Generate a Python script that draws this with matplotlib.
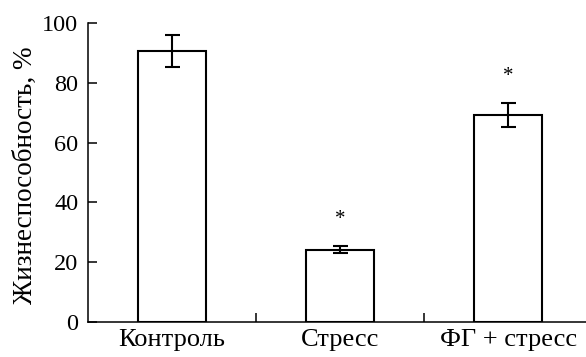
import matplotlib
matplotlib.use("Agg")
import matplotlib.pyplot as plt

# Viability of cells under the three treatments
categories = ["Контроль", "Стресс", "ФГ + стресс"]
viability = [90.5, 24.2, 69.3]
errors = [5.3, 1.2, 4.0]
significant = [False, True, True]
y_ticks = [0, 20, 40, 60, 80, 100]

plt.rcParams["font.family"] = ["Liberation Serif", "DejaVu Serif"]

fig = plt.figure(figsize=(5.86, 3.57), dpi=100)
ax = fig.add_axes([0.1502, 0.0972, 0.8498, 0.839])

x = list(range(len(categories)))
ax.bar(x, viability, width=0.404, color="white", edgecolor="black",
       linewidth=1.5, zorder=2)
ax.errorbar(x, viability, yerr=errors, fmt="none", ecolor="black",
            elinewidth=1.5, capsize=5.4, capthick=1.5, zorder=3)

for xi, v, e, s in zip(x, viability, errors, significant):
    if s:
        ax.text(xi, v + e + 8.8, "*", ha="center", va="center",
                fontsize=15, color="black")

ax.set_xlim(-0.496, 2.461)
ax.set_ylim(0, 100)
ax.set_yticks(y_ticks)
ax.set_xticks(x)
ax.set_xticklabels(categories)
ax.set_xticks([0.5, 1.5], minor=True)

ax.spines["top"].set_visible(False)
ax.spines["right"].set_visible(False)
for sp in ("left", "bottom"):
    ax.spines[sp].set_linewidth(1.1)

ax.tick_params(axis="y", direction="in", length=6.3, width=1.1,
               labelsize=17.5, pad=7)
ax.tick_params(axis="x", which="major", length=0, labelsize=19, pad=4.5)
ax.tick_params(axis="x", which="minor", direction="in", length=6.3,
               width=1.1)

ax.set_ylabel("Жизнеспособность, %", fontsize=19.5)
ax.yaxis.set_label_coords(-0.100, 0.49)

fig.savefig("out.png", dpi=100)
